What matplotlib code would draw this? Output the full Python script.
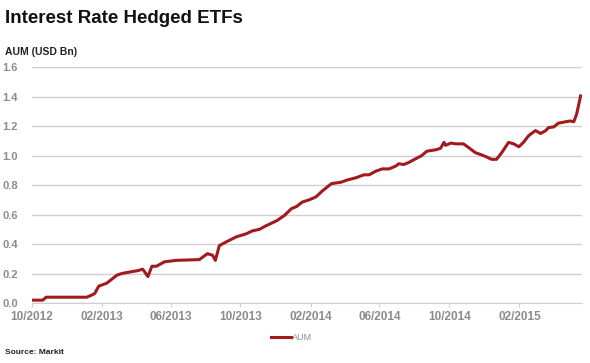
import pandas as pd
import matplotlib
matplotlib.use("Agg")
import matplotlib.pyplot as plt
import matplotlib.dates as mdates

# Data (AUM in USD bn)
dates = [
    "2012-10-01", "2012-10-20", "2012-10-26", "2013-01-05", "2013-01-14",
    "2013-01-19", "2013-01-26", "2013-02-09", "2013-02-27", "2013-03-07",
    "2013-03-13", "2013-04-04", "2013-04-13", "2013-04-22", "2013-04-29",
    "2013-05-07", "2013-05-21", "2013-06-11", "2013-07-21", "2013-08-04",
    "2013-08-13", "2013-08-18", "2013-08-25", "2013-09-06", "2013-09-24",
    "2013-10-11", "2013-10-22", "2013-11-03", "2013-11-15", "2013-12-04",
    "2013-12-17", "2013-12-29", "2014-01-07", "2014-01-17", "2014-01-29",
    "2014-02-10", "2014-02-21", "2014-03-09", "2014-03-26", "2014-04-06",
    "2014-04-21", "2014-05-05", "2014-05-14", "2014-05-26", "2014-06-06",
    "2014-06-18", "2014-06-30", "2014-07-05", "2014-07-14", "2014-07-23",
    "2014-08-04", "2014-08-14", "2014-08-23", "2014-09-08", "2014-09-16",
    "2014-09-22", "2014-09-25", "2014-10-04", "2014-10-13", "2014-10-26",
    "2014-11-04", "2014-11-16", "2014-11-27", "2014-12-09", "2014-12-14",
    "2014-12-23", "2015-01-01", "2015-01-13", "2015-01-22", "2015-01-31",
    "2015-02-08", "2015-02-17", "2015-03-01", "2015-03-10", "2015-03-19",
    "2015-03-24", "2015-04-02", "2015-04-10", "2015-04-23", "2015-05-01",
    "2015-05-07", "2015-05-12", "2015-05-19",
]
aum = [
    0.02, 0.02, 0.04, 0.04, 0.055,
    0.065, 0.115, 0.135, 0.19, 0.20,
    0.205, 0.22, 0.23, 0.18, 0.25,
    0.25, 0.28, 0.29, 0.295, 0.335,
    0.325, 0.29, 0.39, 0.415, 0.45,
    0.47, 0.49, 0.50, 0.525, 0.56,
    0.595, 0.64, 0.655, 0.685, 0.70,
    0.72, 0.76, 0.81, 0.82, 0.835,
    0.85, 0.87, 0.87, 0.895, 0.91,
    0.91, 0.93, 0.945, 0.94, 0.955,
    0.98, 1.0, 1.03, 1.04, 1.05,
    1.09, 1.07, 1.085, 1.08, 1.08,
    1.055, 1.02, 1.005, 0.985, 0.975,
    0.975, 1.02, 1.09, 1.08, 1.06,
    1.09, 1.135, 1.17, 1.15, 1.17,
    1.19, 1.195, 1.22, 1.23, 1.235,
    1.23, 1.28, 1.405,
]
x_ticks = ["2012-10-01", "2013-02-01", "2013-06-01", "2013-10-01",
           "2014-02-01", "2014-06-01", "2014-10-01", "2015-02-01"]
y_ticks = [0.0, 0.2, 0.4, 0.6, 0.8, 1.0, 1.2, 1.4, 1.6]

df = pd.DataFrame({"date": pd.to_datetime(dates), "aum": aum})

plt.rcParams['font.family'] = ['Liberation Sans', 'DejaVu Sans']

fig = plt.figure(figsize=(5.9, 3.63), dpi=100)
ax = fig.add_axes([0.054, 0.165, 0.932, 0.65])

ax.plot(df["date"], df["aum"], color='#a01a1e', linewidth=2.2, label='AUM',
        solid_joinstyle='round')

ax.set_xlim(pd.Timestamp("2012-10-01"), pd.Timestamp("2015-05-21"))
ax.set_ylim(0, 1.6)
ax.set_yticks(y_ticks)
ax.set_yticklabels([f"{v:.1f}" for v in y_ticks])
ax.set_xticks(pd.to_datetime(x_ticks))
ax.xaxis.set_major_formatter(mdates.DateFormatter("%m/%Y"))

ax.grid(axis='y', color='#cfcfcf', linewidth=1.0)
ax.set_axisbelow(True)
for s in ['top', 'right', 'left']:
    ax.spines[s].set_visible(False)
ax.spines['bottom'].set_color('#cfcfcf')
ax.tick_params(axis='y', length=0, pad=10, labelsize=8, labelcolor='#8c8c8c')
ax.tick_params(axis='x', length=3, color='#cfcfcf', pad=3, labelsize=8.5,
               labelcolor='#8c8c8c')
for lab in ax.get_xticklabels() + ax.get_yticklabels():
    lab.set_fontweight('bold')

fig.text(0.008, 0.95, "Interest Rate Hedged ETFs", fontsize=13.5, fontweight='bold',
         color='#111111', va='center', ha='left')
fig.text(0.008, 0.857, "AUM (USD Bn)", fontsize=7.5, fontweight='bold',
         color='#222222', va='center', ha='left')
fig.text(0.008, 0.03, "Source: Markit", fontsize=6, fontweight='bold',
         color='#222222', va='center', ha='left')

ax.legend(loc='center', bbox_to_anchor=(0.472, -0.145), frameon=False,
          fontsize=6.5, handlelength=2.2, handletextpad=0.1, labelcolor='#8c8c8c',
          borderpad=0)

fig.savefig("out.png", dpi=100)
